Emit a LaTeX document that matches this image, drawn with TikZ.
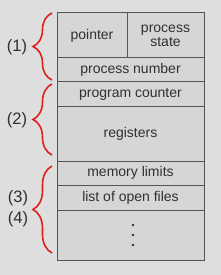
\documentclass[tikz,border=0pt]{standalone}
\usepackage{fontspec}
\setmainfont{Liberation Sans}
\usetikzlibrary{decorations.pathreplacing}
\definecolor{bg}{HTML}{DEDEDE}
\definecolor{cell}{HTML}{D6D6D6}
\definecolor{edge}{HTML}{555555}
\definecolor{txt}{HTML}{303030}
\definecolor{br}{HTML}{E0201A}
\begin{document}
\begin{tikzpicture}[x=1pt,y=-1pt,
  cellbox/.style={draw=edge,fill=cell,line width=1pt},
  lbl/.style={text=txt,font=\fontsize{14}{15}\selectfont,align=center},
  num/.style={text=txt,font=\fontsize{16.5}{18}\selectfont},
  bracedec/.style={draw=br,line width=1.6pt,decorate,decoration={brace,amplitude=19pt,aspect=0.5}}]
\fill[bg] (0,0) rectangle (221,275);
\useasboundingbox (0,0) rectangle (221,275);
% cells
\draw[cellbox] (57,13) rectangle (127,58) node[midway,lbl] (ptr) {pointer};
\draw[cellbox] (127,13) rectangle (204,58) node[midway,lbl] (pst) {process\\[-1pt]state};
\draw[cellbox] (57,58) rectangle (204,82) node[midway,lbl] (pn) {process number};
\draw[cellbox] (57,82) rectangle (204,107) node[midway,lbl] (pc) {program counter};
\draw[cellbox] (57,107) rectangle (204,161) node[midway,lbl] (reg) {registers};
\draw[cellbox] (57,161) rectangle (204,185) node[midway,lbl] (ml) {memory limits};
\draw[cellbox] (57,185) rectangle (204,210) node[midway,lbl] (lf) {list of open files};
\draw[cellbox] (57,210) rectangle (204,260) node[midway,lbl] (dots) {};
\fill[txt] (133,225) circle (1.4pt) (133,235) circle (1.4pt) (133,245) circle (1.4pt);
% braces
\coordinate (b1t) at (52,13);
\coordinate (b1b) at (52,80);
\coordinate (b2t) at (52,84);
\coordinate (b2b) at (52,155);
\coordinate (b3t) at (52,166);
\coordinate (b3b) at (52,253);
\draw[bracedec] (b1b) -- (b1t);
\draw[bracedec] (b2b) -- (b2t);
\draw[bracedec] (b3b) -- (b3t);
% labels
\node[num] (l1) at (17,47) {(1)};
\node[num] (l2) at (17,120) {(2)};
\node[num] (l3) at (18,198) {(3)};
\node[num] (l4) at (18,219) {(4)};
\end{tikzpicture}
\end{document}
